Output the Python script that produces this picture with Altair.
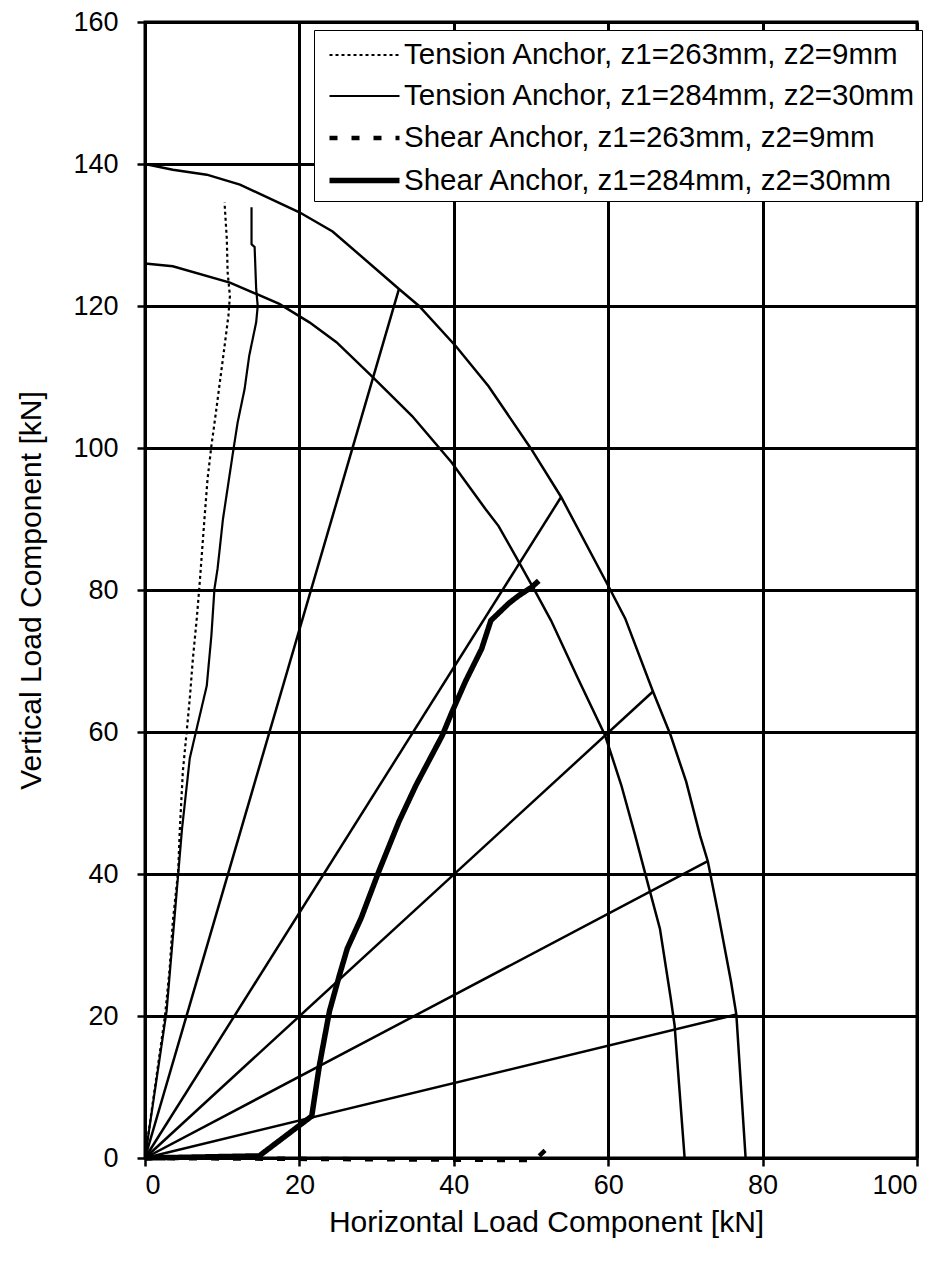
import altair as alt
import pandas as pd

# ---- interaction curves ----
outer_x = [0, 3.6, 8, 12.3, 20, 24.3, 32.9, 35.5, 40.3, 44.5, 50, 53.9, 60, 62.2, 65.8, 68.1, 70.1, 71.9, 72.9, 74.2, 75.9, 76.6, 77.8]
outer_y = [140, 139.2, 138.5, 137.1, 133.2, 130.5, 122.4, 120, 114.3, 108.7, 99.9, 93.1, 80.6, 76, 65.7, 59.5, 53, 45.4, 41.8, 34.7, 24.9, 20.2, 0]

inner_x = [0, 3.6, 11, 17.4, 21.3, 24.8, 29.4, 34.6, 39.7, 44.1, 45.8, 48.4, 50.6, 52.6, 56.1, 59.6, 61.7, 63.5, 65.2, 66.7, 68.1, 68.6, 69.9]
inner_y = [126, 125.6, 123.3, 120.3, 117.7, 114.9, 110.1, 104.5, 98, 91.4, 89, 84, 79.7, 75.7, 67.5, 59.5, 52.5, 45.4, 38.4, 32.3, 22.5, 18.7, 0]

# ---- radial load lines (end points) ----
ray_x = [32.9, 53.9, 65.8, 72.9, 76.6]
ray_y = [122.4, 93.1, 65.7, 41.8, 20.2]

# ---- measured anchor paths ----
series_names = [
    "Tension Anchor, z1=263mm, z2=9mm",
    "Tension Anchor, z1=284mm, z2=30mm",
    "Shear Anchor, z1=263mm, z2=9mm",
    "Shear Anchor, z1=284mm, z2=30mm",
]

t263_x = [0, 2.6, 3.2, 3.6, 4.3, 4.5, 4.9, 5.4, 5.8, 6.2, 6.7, 7.1, 7.7, 8.1, 8.6, 9.2, 9.7, 10.3, 10.8, 11.0, 10.7, 10.6, 10.3]
t263_y = [0, 20.1, 26.7, 33.3, 40.4, 46, 54.4, 60.1, 64.7, 70.3, 75.9, 81.2, 90, 95.6, 100.3, 105.1, 109.3, 114.3, 118.6, 121.4, 124.8, 129.4, 134.6]

t284_x = [0, 2.8, 4.8, 5.8, 6.7, 8.0, 8.6, 9.0, 9.4, 10.1, 11.4, 12.0, 12.9, 13.5, 14.4, 14.6, 14.4, 14.2, 13.8, 13.8]
t284_y = [0, 20.7, 46.4, 56.3, 60.5, 66.5, 73.6, 80.2, 83, 90, 99.4, 103.6, 108.3, 113, 117.7, 120, 122.4, 128.3, 128.7, 133.9]

s263_x = [0, 50.5, 52.5]
s263_y = [0, -0.3, 1.8]

s284_x = [0, 14.8, 21.6, 22.6, 23.9, 25.2, 26.2, 28.0, 30.3, 32.9, 35.1, 38.5, 39.8, 41.5, 43.6, 44.8, 47.1, 48.4, 50.1, 51.0]
s284_y = [0, 0.3, 5.9, 13.1, 20.7, 25.8, 29.5, 33.8, 40.4, 47.4, 52.5, 59.5, 62.9, 67.1, 71.7, 75.7, 78.1, 79.2, 80.4, 81.3]

x_ticks = [0, 20, 40, 60, 80, 100]
y_ticks = [0, 20, 40, 60, 80, 100, 120, 140, 160]


def frame(xs, ys, key, name):
    return pd.DataFrame({"x": xs, "y": ys, "order": list(range(len(xs))), key: name})


curve_df = pd.concat([frame(outer_x, outer_y, "curve", "outer"),
                      frame(inner_x, inner_y, "curve", "inner")])

ray_rows = []
for i, (ex, ey) in enumerate(zip(ray_x, ray_y)):
    ray_rows.append({"x": 0, "y": 0, "order": 0, "ray": i})
    ray_rows.append({"x": ex, "y": ey, "order": 1, "ray": i})
ray_df = pd.DataFrame(ray_rows)

anchor_df = pd.concat([
    frame(t263_x, t263_y, "series", series_names[0]),
    frame(t284_x, t284_y, "series", series_names[1]),
    frame(s263_x, s263_y, "series", series_names[2]),
    frame(s284_x, s284_y, "series", series_names[3]),
])

FONT = "Liberation Sans"

X = alt.X("x:Q",
          scale=alt.Scale(domain=[0, 100], nice=False, zero=False),
          axis=alt.Axis(values=x_ticks, title="Horizontal Load Component [kN]",
                        labelPadding=6, titlePadding=9, titleX=401))
Y = alt.Y("y:Q",
          scale=alt.Scale(domain=[0, 160], nice=False, zero=False),
          axis=alt.Axis(values=y_ticks, title="Vertical Load Component [kN]",
                        labelPadding=19, titlePadding=26))

curves = alt.Chart(curve_df).mark_line(color="black", strokeWidth=2.5).encode(
    x=X, y=Y, detail="curve:N", order="order:Q")

rays = alt.Chart(ray_df).mark_line(color="black", strokeWidth=2.5).encode(
    x=X, y=Y, detail="ray:N", order="order:Q")

legend = alt.Legend(
    title=None, orient="none", legendX=169, legendY=8,
    fillColor="white", strokeColor="black", padding=6,
    labelFont=FONT, labelFontSize=29.5, labelColor="black", labelLimit=800,
    symbolType="M-2,0H2", symbolSize=1225, symbolStrokeColor="black",
    symbolOffset=24, rowPadding=7, labelOffset=19)

anchors = alt.Chart(anchor_df).mark_line(color="black", clip=False).encode(
    x=X, y=Y, order="order:Q",
    strokeDash=alt.StrokeDash("series:N",
                              scale=alt.Scale(type="ordinal", domain=series_names,
                                              range=[[3, 3], [1, 0], [8, 14], [1, 0]]),
                              legend=legend),
    strokeWidth=alt.StrokeWidth("series:N",
                                scale=alt.Scale(type="ordinal", domain=series_names,
                                                range=[2.2, 2.2, 4.5, 5.5]),
                                legend=legend),
)

chart = alt.layer(curves, rays, anchors).properties(
    width=772, height=1136,
    padding={"left": 137, "top": 14, "right": 25, "bottom": 100},
    autosize=alt.AutoSizeParams(type="none"),
    background="white",
).configure_axis(
    labelFont=FONT, titleFont=FONT, labelFontSize=27, titleFontSize=30,
    titleFontWeight="normal", labelColor="black", titleColor="black",
    grid=True, gridColor="black", gridWidth=3, gridOpacity=1,
    domainColor="black", domainWidth=3,
    tickColor="black", tickWidth=2.5, tickSize=8,
).configure_view(stroke="black", strokeWidth=3)

chart.save("out.html", embed_options={"renderer": "svg", "actions": False})
